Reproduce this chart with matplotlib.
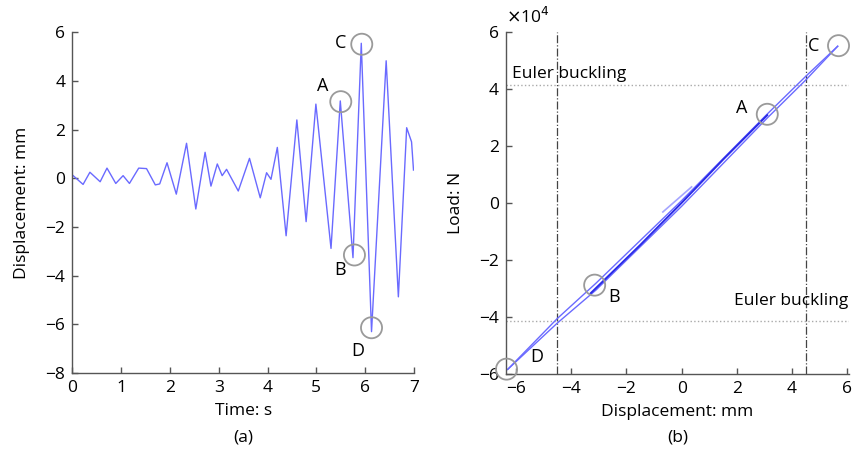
import matplotlib
matplotlib.use("Agg")
import matplotlib.pyplot as plt

plt.rcParams['font.family'] = ['Open Sans', 'DejaVu Sans']
plt.rcParams['font.size'] = 12.5

# ===== (a) displacement time history (peaks / troughs) =====
time_s = [0.00, 0.22, 0.36, 0.57, 0.71, 0.89, 1.04, 1.17, 1.36, 1.52, 1.70, 1.79,
          1.94, 2.13, 2.34, 2.53, 2.72, 2.84, 2.97, 3.07, 3.16, 3.40, 3.63, 3.85,
          3.98, 4.07, 4.20, 4.38, 4.60, 4.79, 4.99, 5.30, 5.49, 5.75, 5.92, 6.13,
          6.43, 6.68, 6.85, 6.95, 6.99]
disp_mm = [0.14, -0.25, 0.25, -0.14, 0.42, -0.21, 0.11, -0.21, 0.42, 0.40, -0.27, -0.23,
           0.64, -0.65, 1.44, -1.26, 1.07, -0.32, 0.59, 0.11, 0.37, -0.52, 0.82, -0.80,
           0.23, -0.04, 1.27, -2.36, 2.40, -1.78, 3.05, -2.88, 3.18, -3.26, 5.55, -6.30,
           4.83, -4.87, 2.08, 1.50, 0.34]

# ===== (b) load-displacement loop (load in 1e4 N) =====
loop_up_disp = [-6.30, -4.50, -3.10, 0.00, 3.10, 4.50, 5.65]
loop_up_load = [-5.85, -4.06, -2.82, 0.08, 3.12, 4.45, 5.50]
loop_down_disp = [5.65, 4.50, 3.10, 0.00, -3.10, -4.50, -6.30]
loop_down_load = [5.50, 4.32, 2.98, -0.12, -3.06, -4.22, -5.85]
core_disp = [-3.30, -1.50, 0.00, 1.50, 3.10]
core_load = [-3.18, -1.48, 0.00, 1.52, 3.08]
stub_disp = [-0.68, 0.36]
stub_load = [-0.32, 0.56]

euler_disp = 4.5      # mm
euler_load = 4.15     # x1e4 N

# marked states A-D
state_names = ['A', 'B', 'C', 'D']
state_t = [5.50, 5.78, 5.93, 6.13]
state_d = [3.15, -3.15, 5.51, -6.14]
state_disp = [3.10, -3.15, 5.68, -6.34]
state_load = [3.11, -2.89, 5.52, -5.84]

LINE = '#6a6aff'
GREY = '#555555'
CIRC = '#9a9a9a'

fig = plt.figure(figsize=(8.52, 4.54), dpi=100)
ax1 = fig.add_axes([0.0849, 0.1784, 0.4010, 0.7504])
ax2 = fig.add_axes([0.5939, 0.1769, 0.4026, 0.7526])


def style_axes(ax):
    for s in ['top', 'right']:
        ax.spines[s].set_visible(False)
    for s in ['left', 'bottom']:
        ax.spines[s].set_color(GREY)
        ax.spines[s].set_linewidth(1.0)
    ax.tick_params(direction='in', length=4, width=1.0, color=GREY, labelsize=12.5, pad=5)


# ---- (a) ----
ax1.plot(time_s, disp_mm, color=LINE, linewidth=1.0)
ax1.scatter(state_t, state_d, s=230, facecolors='none', edgecolors=CIRC, linewidths=1.3,
            zorder=5, clip_on=False)
offs_a = {'A': (-0.38, 0.64), 'B': (-0.29, -0.62), 'C': (-0.44, 0.05), 'D': (-0.29, -0.96)}
for n, t, d in zip(state_names, state_t, state_d):
    ax1.text(t + offs_a[n][0], d + offs_a[n][1], n, ha='center', va='center', fontsize=13)
ax1.set_xlim(0, 7)
ax1.set_ylim(-8, 6)
ax1.set_xticks(range(0, 8))
ax1.set_yticks(range(-8, 7, 2))
ax1.set_xlabel('Time: s', labelpad=5)
ax1.set_ylabel('Displacement: mm', labelpad=11)
style_axes(ax1)
ax1.text(0.5, -0.188, '(a)', transform=ax1.transAxes, ha='center', va='center', fontsize=12.5)

# ---- (b) ----
ax2.axvline(-euler_disp, color='#444444', linestyle='-.', linewidth=0.9)
ax2.axvline(euler_disp, color='#444444', linestyle='-.', linewidth=0.9)
ax2.axhline(euler_load, color='#aaaaaa', linestyle=':', linewidth=1.0)
ax2.axhline(-euler_load, color='#aaaaaa', linestyle=':', linewidth=1.0)
ax2.plot(loop_up_disp, loop_up_load, color=LINE, linewidth=1.0)
ax2.plot(loop_down_disp, loop_down_load, color=LINE, linewidth=1.0)
ax2.plot(stub_disp, stub_load, color='#a5a5ff', linewidth=1.2)
ax2.plot(core_disp, core_load, color='#2a2ae8', linewidth=1.4)
ax2.scatter(state_disp, state_load, s=230, facecolors='none', edgecolors=CIRC, linewidths=1.3,
            zorder=5, clip_on=False)
offs_b = {'A': (-0.91, 0.21), 'B': (0.69, -0.42), 'C': (-0.91, -0.02), 'D': (1.11, 0.42)}
for n, x, y in zip(state_names, state_disp, state_load):
    ax2.text(x + offs_b[n][0], y + offs_b[n][1], n, ha='center', va='center', fontsize=13)
ax2.text(-6.14, euler_load + 0.37, 'Euler buckling', ha='left', va='center', fontsize=12.5)
ax2.text(6.05, -euler_load + 0.72, 'Euler buckling', ha='right', va='center', fontsize=12.5)
ax2.set_xlim(-6.36, 6.06)
ax2.set_ylim(-6, 6)
ax2.set_xticks(range(-6, 7, 2))
ax2.set_yticks(range(-6, 7, 2))
ax2.set_xlabel('Displacement: mm', labelpad=5)
ax2.set_ylabel('Load: N', labelpad=11)
style_axes(ax2)
ax2.text(0.0, 1.045, r'$\times$10$^4$', transform=ax2.transAxes, ha='left', va='center',
         fontsize=12.5)
ax2.text(0.5, -0.188, '(b)', transform=ax2.transAxes, ha='center', va='center', fontsize=12.5)

fig.savefig('out.png', dpi=100)
